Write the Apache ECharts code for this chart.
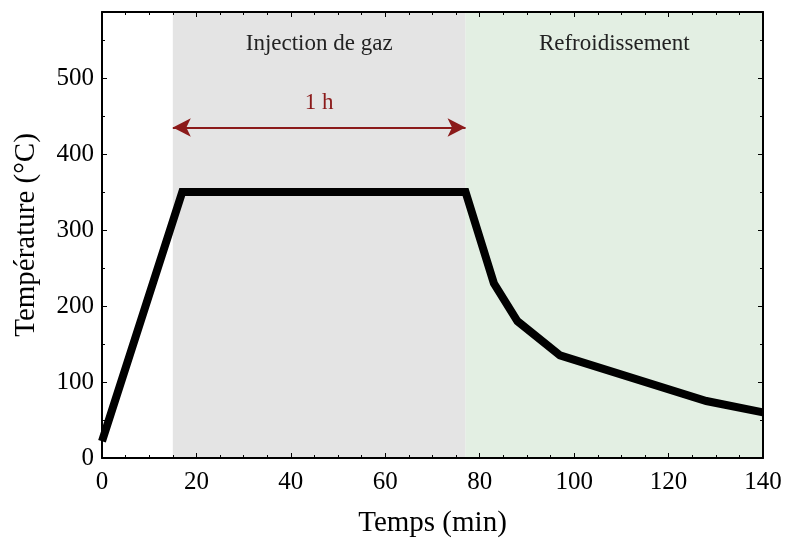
<!DOCTYPE html>
<html>
<head>
<meta charset="utf-8">
<script src="https://cdn.jsdelivr.net/npm/echarts@6/dist/echarts.min.js"></script>
<style>html,body{margin:0;padding:0;background:#fff}#c{width:787px;height:539px}</style>
</head>
<body>
<div id="c"></div>
<script>
// Temperature profile of the treatment (time in minutes, temperature in °C)
const timeMin = [0, 17, 77, 83, 88, 97, 128, 140];
const tempC = [22, 350, 350, 230, 180, 135, 75, 60];

// Phases shaded behind the curve
const phaseNames = ['Injection de gaz', 'Refroidissement'];
const phaseStart = [15, 77];
const phaseEnd = [77, 140];
const phaseColors = ['#e4e4e4', '#e3efe3'];

// Duration arrow for the gas injection
const arrowLevel = 435;
const arrowLabel = '1 h';

const xTicks = [0, 20, 40, 60, 80, 100, 120, 140];
const yTicks = [0, 100, 200, 300, 400, 500];

const serif = '"Liberation Serif", "DejaVu Serif", serif';

const chart = echarts.init(document.getElementById('c'));

const tickStyle = {show: true, inside: true, length: 5, lineStyle: {color: '#000', width: 1}};
const minorStyle = {show: true, splitNumber: 4, length: 3, lineStyle: {color: '#000', width: 1}};
const minorY = {show: true, splitNumber: 2, length: 3, lineStyle: {color: '#000', width: 1}};
const lineStyle = {show: true, onZero: false, lineStyle: {color: '#000', width: 2}};

chart.setOption({
  animation: false,
  grid: {left: 102, right: 24, top: 12, bottom: 81, containLabel: false, outerBoundsMode: 'none'},
  xAxis: [{
    type: 'value', min: 0, max: 140, interval: 20, z: 10,
    axisLine: lineStyle, axisTick: tickStyle, minorTick: minorStyle,
    splitLine: {show: false},
    axisLabel: {color: '#000', fontFamily: serif, fontSize: 25, margin: 12,
      formatter: v => xTicks.includes(v) ? String(v) : ''},
    name: 'Temps (min)', nameLocation: 'middle', nameGap: 51,
    nameTextStyle: {color: '#000', fontFamily: serif, fontSize: 29}
  }, {
    type: 'value', position: 'top', min: 0, max: 140, interval: 20, z: 10,
    axisLine: lineStyle, axisTick: tickStyle, minorTick: minorStyle,
    splitLine: {show: false}, axisLabel: {show: false}
  }],
  yAxis: [{
    type: 'value', min: 0, max: 587, interval: 100, z: 10,
    axisLine: lineStyle, axisTick: tickStyle, minorTick: minorY,
    splitLine: {show: false},
    axisLabel: {color: '#000', fontFamily: serif, fontSize: 25, margin: 8,
      formatter: v => yTicks.includes(v) ? String(v) : ''},
    name: 'Température (°C)', nameLocation: 'middle', nameGap: 61,
    nameTextStyle: {color: '#000', fontFamily: serif, fontSize: 29}
  }, {
    type: 'value', position: 'right', min: 0, max: 587, interval: 100, z: 10,
    axisLine: lineStyle, axisTick: tickStyle, minorTick: minorY,
    splitLine: {show: false}, axisLabel: {show: false}
  }],
  series: [{
    type: 'line',
    data: timeMin.map((t, i) => [t, tempC[i]]),
    symbol: 'none',
    lineStyle: {color: '#000', width: 8, join: 'miter'},
    z: 5,
    markArea: {
      silent: true,
      data: phaseNames.map((n, i) => [{
        xAxis: phaseStart[i], yAxis: 0, name: n,
        itemStyle: {color: phaseColors[i]},
        label: {show: true, position: 'insideTop', distance: 20, color: '#222',
          fontFamily: serif, fontSize: 23}
      }, {xAxis: phaseEnd[i], yAxis: 587}])
    },
    markLine: {
      silent: true,
      symbol: ['arrow', 'arrow'],
      symbolSize: [14, 18],
      lineStyle: {color: '#8b1a1a', width: 2, type: 'solid'},
      label: {show: true, position: 'middle', formatter: arrowLabel, color: '#8b1a1a',
        fontFamily: serif, fontSize: 23, distance: 13},
      data: [[{coord: [phaseStart[0], arrowLevel]}, {coord: [phaseEnd[0], arrowLevel]}]]
    }
  }]
});
</script>
</body>
</html>
